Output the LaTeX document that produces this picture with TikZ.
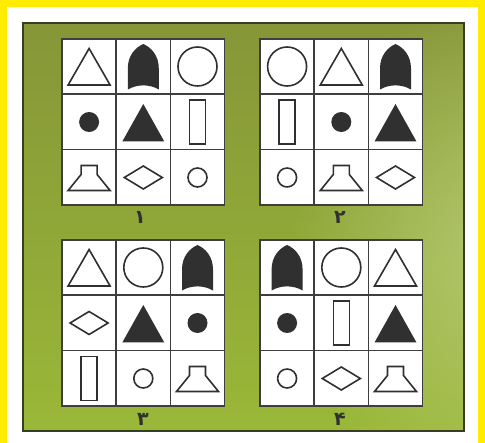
\documentclass[tikz,border=0pt]{standalone}
\usepackage{fontspec}
\newfontfamily\digitfont{DejaVu Sans}
\usetikzlibrary{fadings}
\tikzfading[name=glowfade, inner color=transparent!0, outer color=transparent!100]
\definecolor{yel}{RGB}{255,236,0}
\definecolor{gA}{RGB}{134,150,56}
\definecolor{gB}{RGB}{154,184,56}
\definecolor{gC}{RGB}{192,210,130}
\definecolor{ink}{RGB}{48,48,48}
\definecolor{gridc}{RGB}{62,62,62}
\definecolor{panelline}{RGB}{55,62,35}
\tikzset{
  shp/.style={draw=ink, line width=1.6pt, line join=miter},
  inkfill/.style={fill=ink},
  gridln/.style={draw=gridc, line width=1.7pt},
  lbl/.style={text=ink, font=\digitfont\bfseries\fontsize{19}{19}\selectfont, inner sep=0pt},
  tri/.pic={\draw[shp] (-21,18.5)--(21,18.5)--(0,-18)--cycle;},
  ftri/.pic={\fill[inkfill] (-21,19.5)--(21,19.5)--(0,-18)--cycle;},
  arch/.pic={\fill[inkfill] (-15.5,23) -- (-15.5,2) .. controls (-15.5,-11) and (-8,-19) .. (0,-22.5)
      .. controls (8,-19) and (15.5,-11) .. (15.5,2) -- (15.5,23)
      .. controls (6,17.5) and (-6,17.5) .. (-15.5,23) -- cycle;},
  bigc/.pic={\draw[shp] (0,0) circle (19.5);},
  blackdot/.pic={\fill[inkfill] (0,0) circle (10);},
  smallc/.pic={\draw[shp] (0,0) circle (9.5);},
  tallrect/.pic={\draw[shp] (-8,-22) rectangle (8,22);},
  trap/.pic={\draw[shp] (-21,13) -- (-8,-3) -- (-8,-12) -- (8,-12) -- (8,-3) -- (21,13) -- cycle;},
  diam/.pic={\draw[shp] (-19,0)--(0,-11.5)--(19,0)--(0,11.5)--cycle;},
}
\newcommand\gridcells[9]{%
  \fill[white] (0,0) rectangle (162.6,166);
  \pic at (27.1,27.5) {#1};
  \pic at (81.3,27.5) {#2};
  \pic at (135.5,27.5) {#3};
  \pic at (27.1,83) {#4};
  \pic at (81.3,83) {#5};
  \pic at (135.5,83) {#6};
  \pic at (27.1,138.5) {#7};
  \pic at (81.3,138.5) {#8};
  \pic at (135.5,138.5) {#9};
  \draw[gridln] (0,0) rectangle (162.6,166)
     (54.2,0) -- (54.2,166) (108.4,0) -- (108.4,166)
     (0,55.3) -- (162.6,55.3) (0,110.6) -- (162.6,110.6);
}
\begin{document}
\begin{tikzpicture}[x=1pt,y=-1pt]
\useasboundingbox (0,0) rectangle (485,443);
\fill[white] (0,0) rectangle (485,443);
\fill[yel] (0,0) rectangle (7,443);
\fill[yel] (0,0) rectangle (485,7.5);
\fill[yel] (478,0) rectangle (485,443);
% green panel
\begin{scope}
  \clip (23,23) rectangle (464,431);
  \shade[top color=gA, bottom color=gB] (23,23) rectangle (464,431);
  \fill[gC, path fading=glowfade, fill opacity=0.75] (500,250) ellipse (210 and 260);
\end{scope}
\draw[panelline, line width=1.3pt] (23,23) rectangle (464,431);
% grids
\begin{scope}[shift={(62,39)}]
  \gridcells{tri}{arch}{bigc}{blackdot}{ftri}{tallrect}{trap}{diam}{smallc}
\end{scope}
\begin{scope}[shift={(260,39)}]
  \gridcells{bigc}{tri}{arch}{tallrect}{blackdot}{ftri}{smallc}{trap}{diam}
\end{scope}
\begin{scope}[shift={(62,240)}]
  \gridcells{tri}{bigc}{arch}{diam}{ftri}{blackdot}{tallrect}{smallc}{trap}
\end{scope}
\begin{scope}[shift={(260,240)}]
  \gridcells{arch}{bigc}{tri}{blackdot}{tallrect}{ftri}{smallc}{diam}{trap}
\end{scope}
% labels
\node[lbl] (l1) at (140,217) {۱};
\node[lbl] (l2) at (340,217) {۲};
\node[lbl] (l3) at (143,419) {۳};
\node[lbl] (l4) at (340,419) {۴};
\end{tikzpicture}
\end{document}
